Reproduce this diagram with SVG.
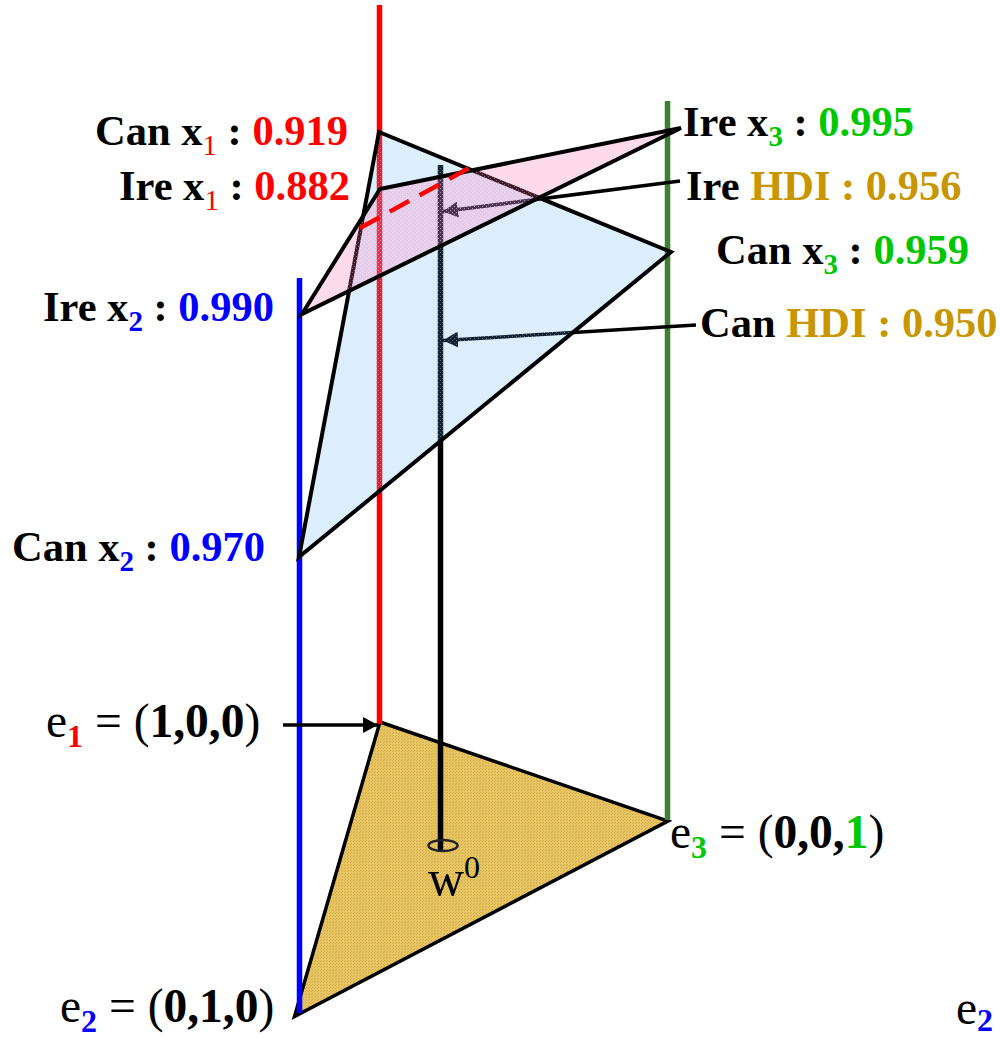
<svg xmlns="http://www.w3.org/2000/svg" width="1000" height="1038" viewBox="0 0 1000 1038">
<style>
text{font-family:"Liberation Serif","Times New Roman",serif;fill:#000}
.b{font-weight:bold;font-size:42.500px}
.n{font-size:47.500px}
.r{fill:#ff0000}.u{fill:#0000ff}.g{fill:#00c800}.h{fill:#c89600}
.s{font-size:29px;font-weight:normal}
.e{font-size:32px;font-weight:bold}
.m{font-weight:bold}
.tri{stroke:#000;stroke-width:4;stroke-linejoin:miter}
.axis{stroke-width:5.500;fill:none}
.lead{stroke:#000;stroke-width:3.500;fill:none}
</style>
<defs>
<marker id="ah" markerUnits="userSpaceOnUse" markerWidth="16" markerHeight="16" refX="15" refY="8" orient="auto"><path d="M0 0L15 8L0 16Z" fill="#000"/></marker>
<pattern id="gold" width="3" height="3" patternUnits="userSpaceOnUse"><rect width="3" height="3" fill="#e6c468"/><rect width="1" height="1" fill="#d9ae38"/><rect x="2" y="1" width="1" height="1" fill="#d9ae38"/></pattern>
<pattern id="bl" width="4" height="4" patternUnits="userSpaceOnUse"><rect width="4" height="4" fill="#4aa8ff" fill-opacity=".2"/><rect width="1" height="1" fill="#ffffff" fill-opacity=".3"/><rect x="2" y="2" width="1" height="1" fill="#ffffff" fill-opacity=".3"/></pattern>
<pattern id="pk" width="4" height="4" patternUnits="userSpaceOnUse"><rect width="4" height="4" fill="#ff69ac" fill-opacity=".25"/><rect width="1" height="1" fill="#ffffff" fill-opacity=".3"/><rect x="2" y="2" width="1" height="1" fill="#ffffff" fill-opacity=".3"/></pattern>
</defs>

<g id="base-triangle"><polygon class="tri" style="stroke-width:3.500" points="380,722 668,821 294.500,1016.500" fill="url(#gold)"/></g>

<g id="connectors">
<line class="axis" x1="379.500" y1="5" x2="379.500" y2="724" stroke="#ff0000"/>
<line class="axis" x1="299.500" y1="278" x2="299.500" y2="1013" stroke="#0000ff"/>
<line class="axis" x1="667.500" y1="101" x2="667.500" y2="820" stroke="#3f7f35"/>
<line class="axis" x1="440.500" y1="165" x2="440.500" y2="852" stroke="#000"/>
<line class="lead" x1="283" y1="725" x2="378" y2="725" marker-end="url(#ah)"/>
<line class="lead" x1="680" y1="181" x2="443" y2="211.500" marker-end="url(#ah)"/>
<line class="lead" x1="696" y1="325" x2="443" y2="340.500" marker-end="url(#ah)"/>
</g>

<g id="can-triangle"><polygon class="tri" points="379,132 671,252 299,557" fill="url(#bl)"/></g>
<g id="ire-triangle"><polygon class="tri" points="380,189 681,128 302,314" fill="url(#pk)"/></g>
<line id="dashed-link" x1="360" y1="228" x2="471" y2="167" stroke="#ff0000" stroke-width="4.500" stroke-dasharray="22 12"/>
<g id="w0-marker"><ellipse cx="443" cy="845.500" rx="14.500" ry="5.500" fill="none" stroke="#222" stroke-width="2.500"/>
<text class="n" x="428" y="895" style="font-size:50px">w<tspan style="font-size:32px" dy="-17">0</tspan></text></g>

<g id="labels">
<text class="b" x="95" y="145">Can x<tspan class="s r" dy="10">1</tspan><tspan dy="-10"> : </tspan><tspan class="r">0.919</tspan></text>
<text class="b" x="119" y="200">Ire x<tspan class="s r" dy="10">1</tspan><tspan dy="-10"> : </tspan><tspan class="r">0.882</tspan></text>
<text class="b" x="43" y="321">Ire x<tspan class="s u m" dy="10">2</tspan><tspan dy="-10"> : </tspan><tspan class="u">0.990</tspan></text>
<text class="b" x="12" y="561">Can x<tspan class="s u m" dy="10">2</tspan><tspan dy="-10"> : </tspan><tspan class="u">0.970</tspan></text>
<text class="b" x="683" y="136">Ire x<tspan class="s g m" dy="10">3</tspan><tspan dy="-10"> : </tspan><tspan class="g">0.995</tspan></text>
<text class="b" x="686" y="200">Ire <tspan class="h">HDI : 0.956</tspan></text>
<text class="b" x="716" y="264">Can x<tspan class="s g m" dy="10">3</tspan><tspan dy="-10"> : </tspan><tspan class="g">0.959</tspan></text>
<text class="b" x="700" y="337">Can <tspan class="h">HDI : 0.950</tspan></text>
<text class="n" x="46" y="737">e<tspan class="e r" dy="10">1</tspan><tspan dy="-10"> = (</tspan><tspan class="m">1,0,0</tspan>)</text>
<text class="n" x="60" y="1022">e<tspan class="e u" dy="10">2</tspan><tspan dy="-10"> = (</tspan><tspan class="m">0,1,0</tspan>)</text>
<text class="n" x="670" y="848">e<tspan class="e g" dy="10">3</tspan><tspan dy="-10"> = (</tspan><tspan class="m">0,0,</tspan><tspan class="m g">1</tspan>)</text>
<text class="n" x="956" y="1024">e<tspan class="e u" dy="7">2</tspan></text>
</g>
</svg>
